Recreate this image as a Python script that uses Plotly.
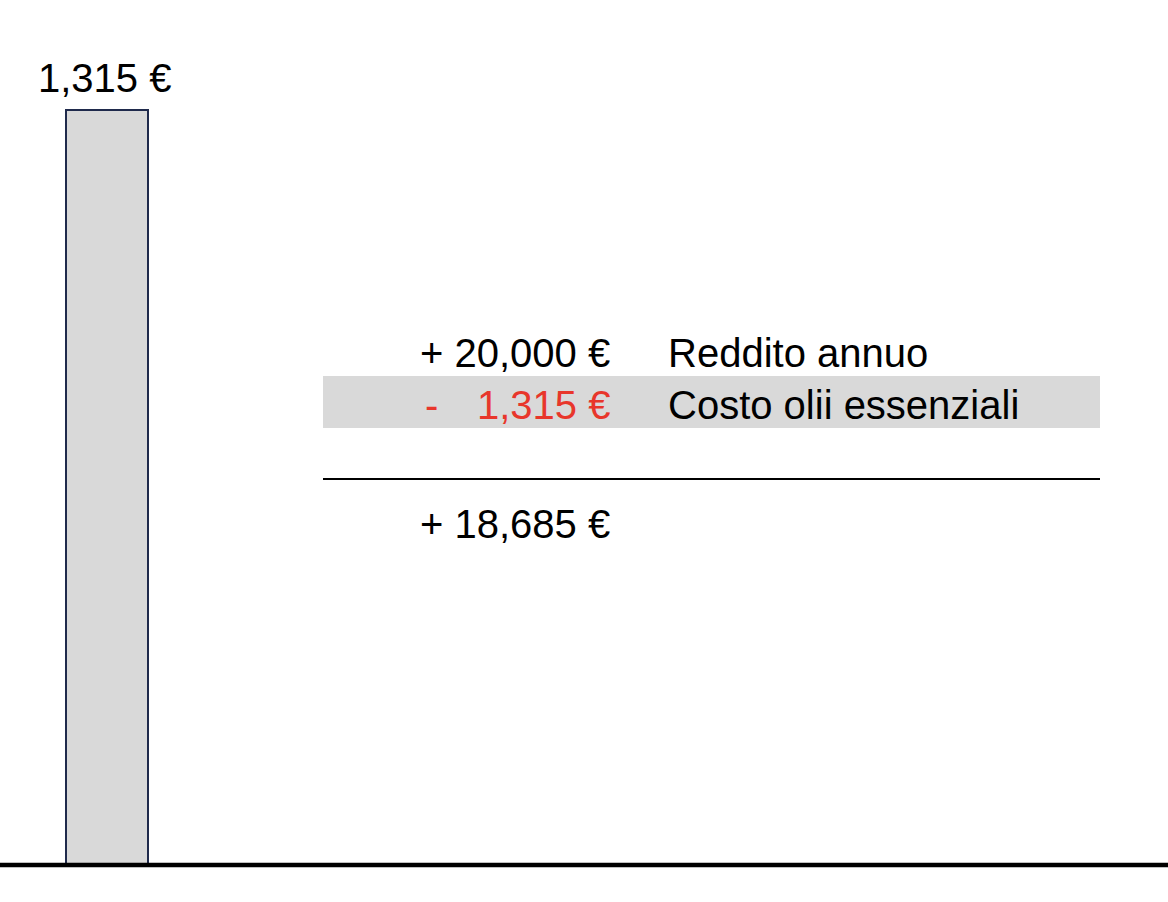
import plotly.graph_objects as go

W, H = 1168, 902

categories = ["Olii essenziali"]
values = [1315]
income = 20000
cost = 1315
net = income - cost
row_labels = ["Reddito annuo", "Costo olii essenziali"]

def eur(v):
    return f"{v:,.0f} €"

def px(x):
    return x / W

def py(y):
    return 1 - y / H

FONT = "Arial, Liberation Sans, Helvetica, sans-serif"
FS = 40

fig = go.Figure()
fig.add_trace(go.Bar(
    x=categories, y=values, width=0.82,
    marker=dict(color="#D9D9D9", line=dict(color="#1F2A4C", width=2)),
    hoverinfo="skip", showlegend=False,
))

# axes: 1 category unit = 100 px; bar centred at pixel 107
x_lo = -1.07
x_hi = x_lo + W / 100.0
base_px = 865
top_px = 110
scale = values[0] / (base_px - top_px)
y_lo = -(H - base_px) * scale
y_hi = base_px * scale

fig.update_xaxes(range=[x_lo, x_hi], visible=False, showgrid=False)
fig.update_yaxes(range=[y_lo, y_hi], visible=False, showgrid=False, zeroline=False)

shapes = [
    # baseline
    dict(type="line", xref="paper", yref="y", x0=0, x1=1, y0=0, y1=0,
         line=dict(color="black", width=4.5), layer="above"),
    # highlight row
    dict(type="rect", xref="paper", yref="paper", x0=px(323), x1=px(1100),
         y0=py(428), y1=py(376), fillcolor="#D9D9D9", line=dict(width=0), layer="below"),
    # separator
    dict(type="line", xref="paper", yref="paper", x0=px(323), x1=px(1100),
         y0=py(479), y1=py(479), line=dict(color="black", width=2)),
]

annotations = [
    dict(x=categories[0], y=values[0], xref="x", yref="y", text=eur(values[0]),
         showarrow=False, yanchor="bottom", yshift=8, xshift=-3,
         font=dict(family=FONT, size=FS, color="black")),
    dict(x=px(612), y=py(353), xref="paper", yref="paper", text="+ " + eur(income),
         showarrow=False, xanchor="right", yanchor="middle",
         font=dict(family=FONT, size=FS, color="black")),
    dict(x=px(666), y=py(353), xref="paper", yref="paper", text=row_labels[0],
         showarrow=False, xanchor="left", yanchor="middle",
         font=dict(family=FONT, size=FS, color="black")),
    dict(x=px(423), y=py(405), xref="paper", yref="paper", text="-",
         showarrow=False, xanchor="left", yanchor="middle",
         font=dict(family=FONT, size=FS, color="#E8362B")),
    dict(x=px(612), y=py(405), xref="paper", yref="paper", text=eur(cost),
         showarrow=False, xanchor="right", yanchor="middle",
         font=dict(family=FONT, size=FS, color="#E8362B")),
    dict(x=px(666), y=py(405), xref="paper", yref="paper", text=row_labels[1],
         showarrow=False, xanchor="left", yanchor="middle",
         font=dict(family=FONT, size=FS, color="black")),
    dict(x=px(612), y=py(524), xref="paper", yref="paper", text="+ " + eur(net),
         showarrow=False, xanchor="right", yanchor="middle",
         font=dict(family=FONT, size=FS, color="black")),
]

fig.update_layout(
    width=W, height=H,
    margin=dict(l=0, r=0, t=0, b=0),
    paper_bgcolor="white", plot_bgcolor="white",
    shapes=shapes, annotations=annotations,
    showlegend=False,
)

fig.write_html("out.html", config={"displayModeBar": False})
